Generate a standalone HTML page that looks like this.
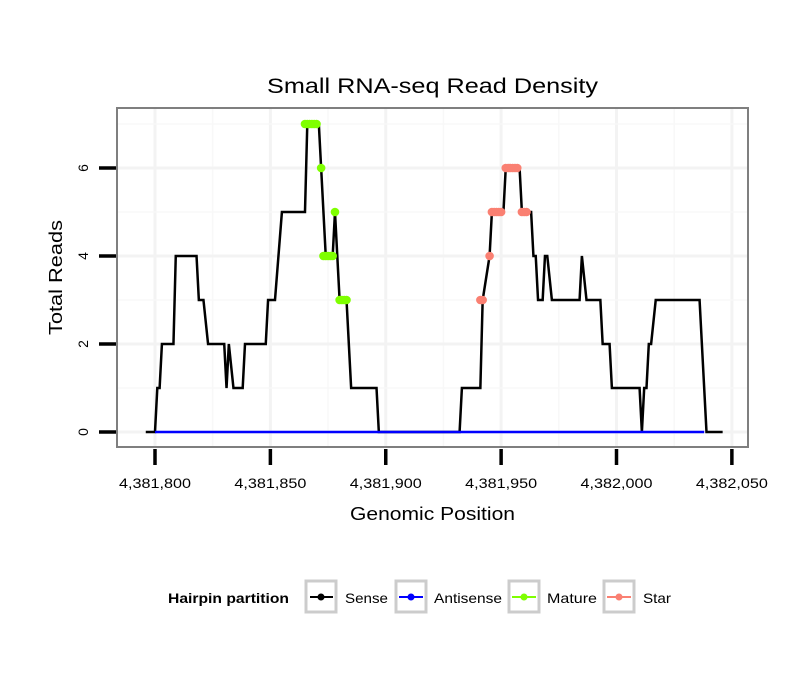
<!DOCTYPE html>
<html><head><meta charset="utf-8"><style>
body{margin:0;background:#fff;}
svg text{font-family:"Liberation Sans",sans-serif;}
</style></head><body>
<svg id="chart" width="810" height="690" xmlns="http://www.w3.org/2000/svg">
<rect width="810" height="690" fill="#fff"/>
<text x="267" y="93" font-size="21" textLength="331" lengthAdjust="spacingAndGlyphs">Small RNA-seq Read Density</text>
<g id="grid"></g>
<g id="plot"></g>
<rect x="117" y="108" width="631" height="339" fill="none" stroke="#7f7f7f" stroke-width="2"/>
<g id="axes"></g>
<text x="350" y="520" font-size="18" textLength="165" lengthAdjust="spacingAndGlyphs">Genomic Position</text>
<text transform="translate(62,335) rotate(-90)" font-size="18" textLength="115" lengthAdjust="spacingAndGlyphs">Total Reads</text>
<g>
<text x="168" y="603" font-size="14" font-weight="bold" textLength="121" lengthAdjust="spacingAndGlyphs">Hairpin partition</text>
<g><rect x="306" y="581" width="30" height="31" fill="#fff" stroke="#ccc" stroke-width="3"/><line x1="310" y1="597" x2="333" y2="597" stroke="#000" stroke-width="2"/><circle cx="321" cy="597" r="3.5" fill="#000"/><text x="345" y="603" font-size="14" textLength="43" lengthAdjust="spacingAndGlyphs">Sense</text></g>
<g><rect x="396" y="581" width="30" height="31" fill="#fff" stroke="#ccc" stroke-width="3"/><line x1="399" y1="597" x2="423" y2="597" stroke="#00f" stroke-width="2"/><circle cx="411" cy="597" r="3.5" fill="#00f"/><text x="434" y="603" font-size="14" textLength="68" lengthAdjust="spacingAndGlyphs">Antisense</text></g>
<g><rect x="509" y="581" width="30" height="31" fill="#fff" stroke="#ccc" stroke-width="3"/><line x1="512" y1="597" x2="536" y2="597" stroke="#7fff00" stroke-width="2"/><circle cx="524" cy="597" r="3.5" fill="#7fff00"/><text x="547" y="603" font-size="14" textLength="50" lengthAdjust="spacingAndGlyphs">Mature</text></g>
<g><rect x="604" y="581" width="30" height="31" fill="#fff" stroke="#ccc" stroke-width="3"/><line x1="607" y1="597" x2="631" y2="597" stroke="#fa8072" stroke-width="2"/><circle cx="619" cy="597" r="3.5" fill="#fa8072"/><text x="643" y="603" font-size="14" textLength="28" lengthAdjust="spacingAndGlyphs">Star</text></g>
</g>
</svg>
<script>
const xTicks=[4381800,4381850,4381900,4381950,4382000,4382050];
const xTickLabels=["4,381,800","4,381,850","4,381,900","4,381,950","4,382,000","4,382,050"];
const yTicks=[0,2,4,6];
const senseX=[4381796,4381800,4381801,4381802,4381803,4381808,4381809,4381818,4381819,4381821,4381823,4381830,4381831,4381832,4381834,4381838,4381839,4381848,4381849,4381852,4381855,4381865,4381866,4381871,4381872,4381874,4381877,4381878,4381879,4381880,4381883,4381885,4381896,4381897,4381932,4381933,4381941,4381942,4381945,4381946,4381951,4381952,4381958,4381959,4381963,4381964,4381965,4381966,4381968,4381969,4381970,4381972,4381984,4381985,4381987,4381993,4381994,4381997,4381998,4382010,4382011,4382012,4382013,4382014,4382015,4382017,4382036,4382039,4382046];
const senseY=[0,0,1,1,2,2,4,4,3,3,2,2,1,2,1,1,2,2,3,3,5,5,7,7,6,4,4,5,4,3,3,1,1,0,0,1,1,3,4,5,5,6,6,5,5,4,4,3,3,4,4,3,3,4,3,3,2,2,1,1,0,1,1,2,2,3,3,0,0];
const antiX=[4381800,4382038];
const antiY=[0,0];
const matureX=[4381865,4381866,4381867,4381868,4381869,4381870,4381872,4381873,4381874,4381875,4381876,4381877,4381878,4381880,4381881,4381882,4381883];
const matureY=[7,7,7,7,7,7,6,4,4,4,4,4,5,3,3,3,3];
const starX=[4381941,4381942,4381945,4381946,4381947,4381948,4381949,4381950,4381952,4381953,4381954,4381955,4381956,4381957,4381959,4381960,4381961];
const starY=[3,3,4,5,5,5,5,5,6,6,6,6,6,6,5,5,5];
const NS="http://www.w3.org/2000/svg";
const sx=v=>155+(v-4381800)*2.3075;
const sy=v=>432-v*44;
function mk(tag,parent,attrs){const e=document.createElementNS(NS,tag);for(const k in attrs)e.setAttribute(k,attrs[k]);parent.appendChild(e);return e;}
const grid=document.getElementById('grid'),plot=document.getElementById('plot'),axes=document.getElementById('axes');
xTicks.forEach((t,i)=>{
 const g=mk('line',grid,{x1:sx(t),x2:sx(t),y1:108,y2:447,stroke:'#f3f3f3','stroke-width':3});
 
 
 if(i<xTicks.length-1){const m=mk('line',grid,{x1:sx(t+25),x2:sx(t+25),y1:108,y2:447,stroke:'#f8f8f8','stroke-width':1.5});
 
 }
 const tk=mk('line',axes,{x1:sx(t),x2:sx(t),y1:449,y2:465,stroke:'#000','stroke-width':3.5});
 
 
 const tx=mk('text',axes,{x:sx(t)-36,y:488,'font-size':14,textLength:72,lengthAdjust:'spacingAndGlyphs'});
 
 
 tx.textContent=xTickLabels[i];
});
yTicks.forEach(t=>{
 const g=mk('line',grid,{x1:117,x2:748,y1:sy(t),y2:sy(t),stroke:'#f3f3f3','stroke-width':3});
 
 
 const m=mk('line',grid,{x1:117,x2:748,y1:sy(t+1),y2:sy(t+1),stroke:'#f8f8f8','stroke-width':1.5});
 
 
 const tk=mk('line',axes,{x1:99,x2:116,y1:sy(t),y2:sy(t),stroke:'#000','stroke-width':3.5});
 
 
 const tx=mk('text',axes,{transform:`translate(88,${sy(t)}) rotate(-90)`,'text-anchor':'middle','font-size':14});
 
 
 tx.textContent=t;
});
function line(xs,ys,color,name){
 const p=mk('polyline',plot,{points:xs.map((x,i)=>sx(x)+','+sy(ys[i])).join(' '),fill:'none',stroke:color,'stroke-width':2.5,'stroke-linejoin':'miter'});
 
 
}
line(senseX,senseY,'#000','sense-line');
line(antiX,antiY,'#00f','antisense-line');
function dots(xs,ys,color,name){
 xs.forEach((x,i)=>{
  const c=mk('circle',plot,{cx:sx(x),cy:sy(ys[i]),r:4.3,fill:color});
  
  
 });
}
dots(matureX,matureY,'#7fff00','mature-point');
dots(starX,starY,'#fa8072','star-point');
</script>
</body></html>
